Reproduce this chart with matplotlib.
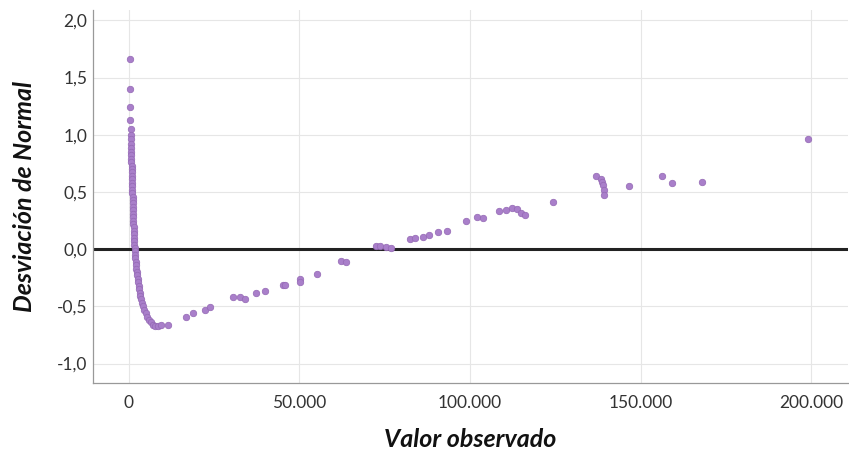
import matplotlib
matplotlib.use("Agg")
import matplotlib.pyplot as plt
from matplotlib.ticker import FuncFormatter

obs_k = [
    0.3, 0.3, 0.4, 0.4, 0.5, 0.5, 0.5, 0.6, 0.6, 0.6, 0.7, 0.7, 0.7, 0.8, 0.8,
    0.8, 0.9, 0.9, 0.9, 1.0, 1.0, 1.0, 1.1, 1.1, 1.1, 1.2, 1.2, 1.2, 1.3, 1.3,
    1.3, 1.4, 1.4, 1.5, 1.5, 1.6, 1.6, 1.7, 1.8, 1.8, 1.9, 2.0, 2.1, 2.2, 2.3,
    2.4, 2.6, 2.7, 2.9, 3.0, 3.2, 3.4, 3.6, 3.9, 4.2, 4.5, 4.9, 5.3, 5.8, 6.4,
    7.0, 7.8, 8.6, 9.5, 11.5,
    16.9, 18.7, 22.3, 23.7, 30.5, 32.5, 34.0, 37.4, 39.8, 45.1, 45.7, 50.1,
    50.3, 55.3, 62.3, 63.7, 72.5, 73.5, 75.5, 76.9, 82.3, 83.8, 86.1, 88.1,
    90.5, 93.4, 98.9, 102.2, 103.7, 108.6, 110.6, 112.4, 113.9, 115.0, 116.0,
    124.2, 137.0, 138.4, 138.8, 139.1, 139.4, 139.4, 146.7, 156.4, 159.3,
    168.1, 199.1,
]
deviation = [
    1.66, 1.40, 1.24, 1.13, 1.05, 1.00, 0.96, 0.92, 0.88, 0.85, 0.82, 0.79,
    0.76, 0.73, 0.70, 0.67, 0.64, 0.61, 0.58, 0.55, 0.52, 0.49, 0.46, 0.43,
    0.40, 0.37, 0.34, 0.31, 0.28, 0.25, 0.22, 0.19, 0.16, 0.13, 0.10, 0.07,
    0.04, 0.01, -0.02, -0.05, -0.08, -0.11, -0.14, -0.17, -0.20, -0.23, -0.26,
    -0.29, -0.32, -0.35, -0.38, -0.41, -0.44, -0.47, -0.50, -0.53, -0.56,
    -0.59, -0.62, -0.64, -0.66, -0.67, -0.67, -0.66, -0.66,
    -0.59, -0.56, -0.53, -0.51, -0.42, -0.42, -0.44, -0.38, -0.37, -0.31,
    -0.31, -0.26, -0.29, -0.22, -0.10, -0.11, 0.03, 0.03, 0.02, 0.01, 0.09,
    0.10, 0.11, 0.12, 0.15, 0.16, 0.25, 0.28, 0.27, 0.33, 0.34, 0.36, 0.35,
    0.32, 0.30, 0.41, 0.64, 0.61, 0.59, 0.56, 0.52, 0.47, 0.55, 0.64, 0.58,
    0.59, 0.96,
]
x_ticks = [0, 50000, 100000, 150000, 200000]
y_ticks = [-1.0, -0.5, 0.0, 0.5, 1.0, 1.5, 2.0]

FONT = "Lato"

fig = plt.figure(figsize=(8.49, 4.53), dpi=100)
ax = fig.add_axes([93 / 849, 1 - 383 / 453, (848 - 93) / 849, (383 - 10) / 453])

obs = [v * 1000 for v in obs_k]
ax.scatter(obs, deviation, s=22, color="#a97fca", edgecolors="#9468b4",
           linewidths=0.5, zorder=3)
ax.axhline(0, color="#222222", linewidth=2.2, zorder=2)

ax.set_xlim(-10500, 210800)
ax.set_ylim(-1.17, 2.09)
ax.set_xticks(x_ticks)
ax.set_yticks(y_ticks)
ax.xaxis.set_major_formatter(FuncFormatter(lambda v, p: f"{v:,.0f}".replace(",", ".")))
ax.yaxis.set_major_formatter(FuncFormatter(lambda v, p: f"{v:.1f}".replace(".", ",")))
ax.tick_params(axis="x", length=0, labelsize=12.5, labelcolor="#333333", pad=9)
ax.tick_params(axis="y", length=0, labelsize=12.5, labelcolor="#333333", pad=4)
for lab in ax.get_xticklabels() + ax.get_yticklabels():
    lab.set_family(FONT)

ax.grid(True, color="#e6e6e6", linewidth=0.8, zorder=0)
ax.set_axisbelow(True)
for side in ("top", "right"):
    ax.spines[side].set_visible(False)
for side in ("left", "bottom"):
    ax.spines[side].set_color("#999999")
    ax.spines[side].set_linewidth(0.9)

ax.set_xlabel("Valor observado", fontsize=18, fontweight="bold", style="italic",
              family=FONT, color="#111111", labelpad=12)
ax.set_ylabel("Desviación de Normal", fontsize=18, fontweight="bold", style="italic",
              family=FONT, color="#111111", labelpad=15)

fig.savefig("out.png", dpi=100)
